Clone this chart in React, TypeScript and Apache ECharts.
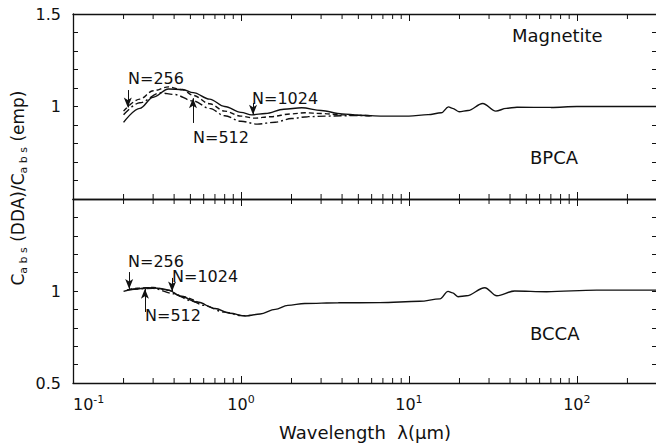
import React, { useEffect, useRef } from 'react';
import * as echarts from 'echarts';

// ---- axis extents / ticks ----
const xMin = 0.1;
const xMax = 300;
const minorTicks = [
  0.2, 0.3, 0.4, 0.5, 0.6, 0.7, 0.8, 0.9,
  2, 3, 4, 5, 6, 7, 8, 9,
  20, 30, 40, 50, 60, 70, 80, 90,
  200,
];
const topYLabels = ['1', '1.5'];
const bottomYLabels = ['0.5', '1'];

// ---- Magnetite, BPCA (top panel) ----
const topN1024X = [0.2, 0.25, 0.3, 0.37, 0.45, 0.52, 0.65, 0.8, 1.0, 1.16, 1.4, 1.8, 2.3, 3.0, 4, 5, 7, 10, 13, 15.6, 17.2, 18.2, 19.9, 22.5, 27.5, 32.9, 38, 44, 70, 100, 300];
const topN1024Y = [0.914, 0.99, 1.05, 1.095, 1.092, 1.075, 1.04, 1.0, 0.968, 0.955, 0.962, 0.985, 0.993, 0.978, 0.96, 0.953, 0.948, 0.948, 0.956, 0.966, 0.998, 0.99, 0.972, 0.978, 1.016, 0.975, 0.99, 0.996, 0.995, 1.0, 1.0];
const topN256X = [0.2, 0.25, 0.3, 0.37, 0.45, 0.52, 0.65, 0.8, 1.0, 1.2, 1.5, 2.0, 2.4, 3.0, 4, 5, 6];
const topN256Y = [0.975, 1.04, 1.085, 1.106, 1.09, 1.06, 1.015, 0.975, 0.948, 0.937, 0.945, 0.96, 0.966, 0.962, 0.955, 0.952, 0.95];
const topN512X = [0.2, 0.25, 0.33, 0.4, 0.52, 0.65, 0.8, 1.0, 1.25, 1.6, 2.0, 2.5, 3.2, 4, 5, 6];
const topN512Y = [0.955, 1.02, 1.074, 1.065, 1.03, 0.99, 0.95, 0.92, 0.905, 0.915, 0.935, 0.945, 0.948, 0.95, 0.951, 0.95];

// ---- BCCA (bottom panel) ----
const botN1024X = [0.2, 0.24, 0.28, 0.33, 0.37, 0.44, 0.55, 0.7, 0.86, 1.06, 1.3, 1.6, 1.9, 2.4, 3.8, 6.7, 11.6, 15.3, 17.1, 18.2, 19.6, 22, 28.3, 33.4, 42.6, 66, 131, 300];
const botN1024Y = [0.998, 1.012, 1.018, 1.014, 1.005, 0.97, 0.94, 0.905, 0.879, 0.864, 0.875, 0.9, 0.922, 0.932, 0.936, 0.937, 0.944, 0.957, 0.998, 0.99, 0.969, 0.974, 1.018, 0.974, 1.0, 0.996, 1.005, 1.005];
const botN256X = [0.21, 0.25, 0.3, 0.37, 0.44, 0.55];
const botN256Y = [1.006, 1.016, 1.019, 1.004, 0.972, 0.941];
const botN512X = [0.22, 0.3, 0.4, 0.5, 0.6, 0.8, 1.0, 1.2];
const botN512Y = [1.008, 1.014, 0.985, 0.948, 0.922, 0.885, 0.866, 0.868];

// ---- annotation arrows (data coordinates: wavelength, from value, to value) ----
const topArrowX = [0.212, 0.518, 1.18];
const topArrowFrom = [1.089, 0.911, 1.019];
const topArrowTo = [0.995, 1.045, 0.955];
const botArrowX = [0.216, 0.389, 0.268];
const botArrowFrom = [1.103, 1.071, 0.886];
const botArrowTo = [1.011, 0.997, 1.012];

const FONT = '"DejaVu Sans", sans-serif';
const INK = '#111';

const zip = (xs: number[], ys: number[]) => xs.map((x, i) => [x, ys[i]]);

const arrowData = (xs: number[], from: number[], to: number[]) =>
  xs.map((x, i) => [{ coord: [x, from[i]] }, { coord: [x, to[i]] }]);

function buildOption() {
  const grids = [
    { left: 73, top: 14, width: 584, height: 185, outerBoundsMode: 'none', containLabel: false },
    { left: 73, top: 199, width: 584, height: 184, outerBoundsMode: 'none', containLabel: false },
  ];

  const xBase = (gridIndex: number, position: string, showLabel: boolean) => ({
    type: 'log',
    logBase: 10,
    gridIndex,
    position,
    min: xMin,
    max: xMax,
    axisLine: { show: true, onZero: false, lineStyle: { color: INK, width: 1.3 } },
    axisTick: { show: true, inside: true, length: 7, lineStyle: { color: INK, width: 1 } },
    splitLine: { show: false },
    minorTick: { show: false },
    axisLabel: showLabel
      ? {
          show: true,
          margin: 11,
          color: INK,
          showMaxLabel: false,
          alignMinLabel: 'left',
          formatter: (v: number) => {
            const l = Math.log10(v);
            const e = Math.round(l);
            if (Math.abs(l - e) > 1e-6) return '';
            return '{b|10}{s|' + (e < 0 ? '-' + Math.abs(e) : String(e)) + '}';
          },
          rich: {
            b: { fontFamily: FONT, fontSize: 16, color: INK, lineHeight: 20 },
            s: { fontFamily: FONT, fontSize: 11, color: INK, lineHeight: 12, verticalAlign: 'top' },
          },
        }
      : { show: false },
  });

  const yBase = (gridIndex: number, position: string, labels: string[] | null) => ({
    type: 'value',
    gridIndex,
    position,
    min: 0.5,
    max: 1.5,
    interval: 0.1,
    axisLine: { show: true, lineStyle: { color: INK, width: 1.3 } },
    axisTick: { show: true, inside: true, length: 5, lineStyle: { color: INK, width: 1 } },
    splitLine: { show: false },
    axisLabel: labels
      ? {
          show: true,
          margin: 12,
          color: INK,
          fontFamily: FONT,
          fontSize: 16,
          formatter: (v: number) => {
            const s = String(Math.round(v * 10) / 10);
            return labels.indexOf(s) >= 0 ? s : '';
          },
        }
      : { show: false },
  });

  const lineSeries = (
    name: string,
    xAxisIndex: number,
    yAxisIndex: number,
    data: number[][],
    type: any,
    extra: any = {}
  ) => ({
    name,
    type: 'line',
    xAxisIndex,
    yAxisIndex,
    data,
    showSymbol: false,
    symbol: 'none',
    smooth: 0.35,
    smoothMonotone: 'x',
    lineStyle: { color: INK, width: 1.4, type },
    z: 3,
    ...extra,
  });

  const markArrows = (xs: number[], from: number[], to: number[]) => ({
    markLine: {
      silent: true,
      symbol: ['none', 'arrow'],
      symbolSize: [6, 10],
      lineStyle: { color: INK, width: 1, type: 'solid' },
      label: { show: false },
      data: arrowData(xs, from, to),
    },
  });

  const minorTickSeries = (xAxisIndex: number, yAxisIndex: number) => ({
    type: 'custom',
    xAxisIndex,
    yAxisIndex,
    silent: true,
    data: minorTicks.map((v) => [v, 1]),
    renderItem: (_params: any, api: any) => {
      const v = api.value(0);
      const pb = api.coord([v, 0.5]);
      const pt = api.coord([v, 1.5]);
      const st = { stroke: INK, lineWidth: 1 };
      return {
        type: 'group',
        children: [
          { type: 'line', shape: { x1: pb[0], y1: pb[1], x2: pb[0], y2: pb[1] - 5 }, style: st },
          { type: 'line', shape: { x1: pt[0], y1: pt[1], x2: pt[0], y2: pt[1] + 5 }, style: st },
        ],
      };
    },
  });

  const textStyle = (text: string, size: number) => ({
    text,
    fill: INK,
    fontFamily: FONT,
    fontSize: size,
  });

  const graphic = [
    { type: 'text', left: 128, top: 70, style: textStyle('N=256', 16) },
    { type: 'text', left: 193, top: 129, style: textStyle('N=512', 16) },
    { type: 'text', left: 252, top: 90, style: textStyle('N=1024', 16) },
    { type: 'text', left: 128, top: 253, style: textStyle('N=256', 16) },
    { type: 'text', left: 172, top: 268, style: textStyle('N=1024', 16) },
    { type: 'text', left: 145, top: 307, style: textStyle('N=512', 16) },
    { type: 'text', left: 512, top: 26, style: textStyle('Magnetite', 18) },
    { type: 'text', left: 530, top: 148, style: textStyle('BPCA', 18) },
    { type: 'text', left: 530, top: 324, style: textStyle('BCCA', 18) },
    {
      type: 'text',
      x: 365,
      y: 432,
      style: { ...textStyle('Wavelength  λ(μm)', 18), align: 'center', verticalAlign: 'middle' },
    },
    {
      type: 'text',
      x: 18,
      y: 188,
      rotation: Math.PI / 2,
      style: {
        text: '{m|C}{s|a b s}{m| (DDA)/C}{s|a b s}{m| (emp)}',
        align: 'center',
        verticalAlign: 'middle',
        fill: INK,
        rich: {
          m: { fontFamily: FONT, fontSize: 17, color: INK, lineHeight: 22 },
          s: { fontFamily: FONT, fontSize: 11, color: INK, lineHeight: 8, verticalAlign: 'bottom' },
        },
      },
    },
  ];

  return {
    animation: false,
    backgroundColor: '#fff',
    grid: grids,
    xAxis: [xBase(0, 'bottom', false), xBase(0, 'top', false), xBase(1, 'bottom', true), xBase(1, 'top', false)],
    yAxis: [yBase(0, 'left', topYLabels), yBase(0, 'right', null), yBase(1, 'left', bottomYLabels), yBase(1, 'right', null)],
    series: [
      lineSeries('Magnetite BPCA N=1024', 0, 0, zip(topN1024X, topN1024Y), 'solid', markArrows(topArrowX, topArrowFrom, topArrowTo)),
      lineSeries('Magnetite BPCA N=256', 0, 0, zip(topN256X, topN256Y), [5, 3]),
      lineSeries('Magnetite BPCA N=512', 0, 0, zip(topN512X, topN512Y), [8, 3, 2, 3]),
      lineSeries('BCCA N=1024', 2, 2, zip(botN1024X, botN1024Y), 'solid', markArrows(botArrowX, botArrowFrom, botArrowTo)),
      lineSeries('BCCA N=256', 2, 2, zip(botN256X, botN256Y), [5, 3]),
      lineSeries('BCCA N=512', 2, 2, zip(botN512X, botN512Y), [8, 3, 2, 3]),
      minorTickSeries(0, 0),
      minorTickSeries(2, 2),
    ],
    graphic,
  };
}

export default function App() {
  const ref = useRef<HTMLDivElement>(null);
  useEffect(() => {
    if (!ref.current) return;
    const chart = echarts.init(ref.current, null, { renderer: 'svg' });
    chart.setOption(buildOption() as any);
    return () => chart.dispose();
  }, []);
  return (
    <div
      ref={ref}
      style={{ position: 'absolute', left: 0, top: 0, width: 656, height: 447, background: '#fff' }}
    />
  );
}
